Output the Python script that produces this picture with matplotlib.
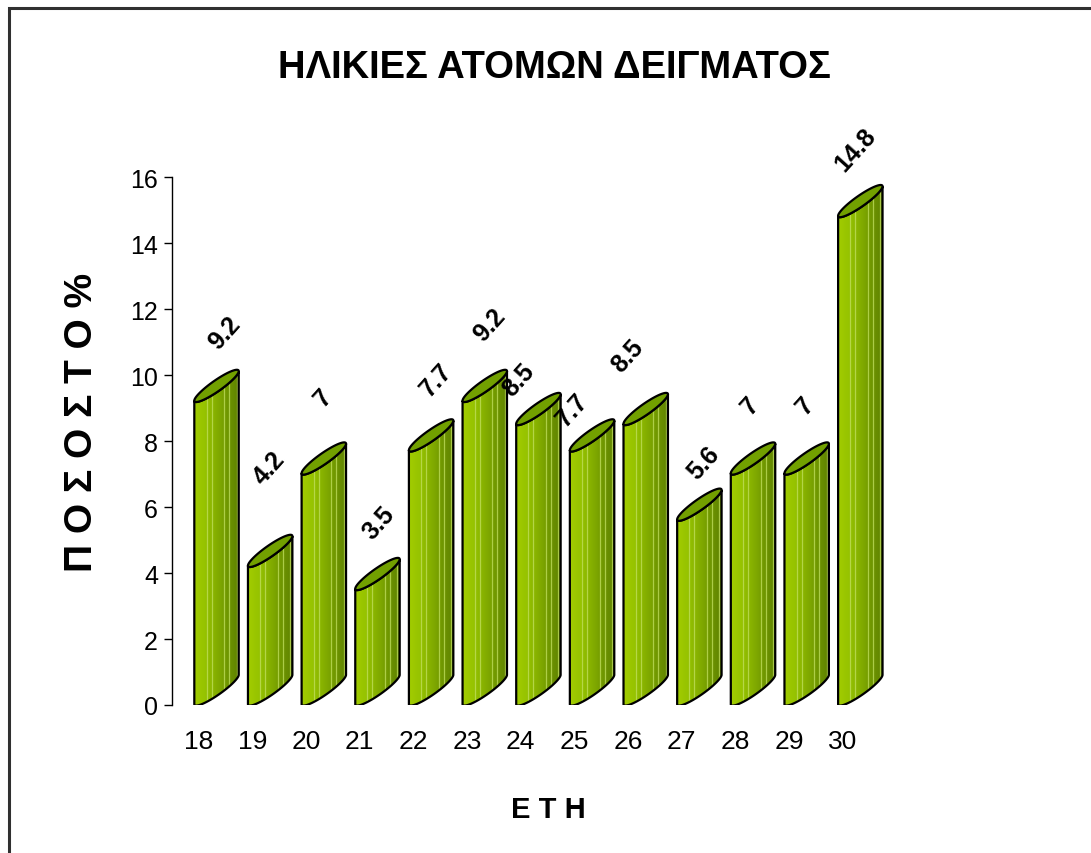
import numpy as np
import matplotlib
matplotlib.use('Agg')
import matplotlib.pyplot as plt
import matplotlib.font_manager as fm
from matplotlib.colors import LinearSegmentedColormap
from matplotlib.patches import Polygon, Rectangle

# data
ages = ['18', '19', '20', '21', '22', '23', '24', '25', '26', '27', '28', '29', '30']
percent = [9.2, 4.2, 7, 3.5, 7.7, 9.2, 8.5, 7.7, 8.5, 5.6, 7, 7, 14.8]
value_labels = ['9.2', '4.2', '7', '3.5', '7.7', '9.2', '8.5', '7.7', '8.5', '5.6', '7', '7', '14.8']

# label placement (pixel offsets from bar top-left), Excel moved some of them around
label_dx = [30, 21, 22, 23, 27, 27, 2, 2, 4, 26, 19, 21, 17]
label_dy = [69, 99, 77, 67, 72, 77, 45, 42, 69, 58, 69, 69, 67]

names = {f.name for f in fm.fontManager.ttflist}
FONT = 'Liberation Sans Narrow' if 'Liberation Sans Narrow' in names else 'Liberation Sans'
plt.rcParams['font.family'] = [FONT, 'DejaVu Sans']

W, H = 1091, 854
fig = plt.figure(figsize=(W / 100, H / 100), dpi=100)

# outer chart frame (only left/top edges show in the picture)
fig.patches.append(Rectangle((9 / W, -0.2), 1.2, 1.2 - 9 / H, transform=fig.transFigure,
                             fill=False, edgecolor='#303030', linewidth=2.2))

step = 53.65   # px per category
ax = fig.add_axes([172 / W, 148 / H, 14 * step / W, 528 / H])
ax.set_xlim(-0.5, 13.5)
ax.set_ylim(0, 16)
sx = step
sy = 528 / 16.0

# cylinder cross-section (pixels, y up): left point at (0,0), right at (44,31)
t = np.linspace(0, 2 * np.pi, 361)
C = np.array([22.0, 15.5])
A = np.array([-22.0, -15.5])
B = np.array([-3.1, 4.4])
ex = C[0] + A[0] * np.cos(t) + B[0] * np.sin(t)
ey = C[1] + A[1] * np.cos(t) + B[1] * np.sin(t)
iL, iR = np.argmin(ex), np.argmax(ex)
# front arc = lower arc between left and right extremes
if iL < iR:
    arc1 = np.arange(iL, iR + 1)
    arc2 = np.r_[np.arange(iR, len(t)), np.arange(0, iL + 1)][::-1]
else:
    arc1 = np.arange(iR, iL + 1)[::-1]
    arc2 = np.r_[np.arange(iL, len(t)), np.arange(0, iR + 1)]
front = arc1 if ey[arc1].mean() < ey[arc2].mean() else arc2
fx, fy = ex[front], ey[front]   # runs left -> right

side_cmap = LinearSegmentedColormap.from_list(
    'side', ['#a2cd00', '#95c200', '#84ae00', '#6f9600', '#5f8200'])
grad = np.linspace(0, 1, 64).reshape(1, -1)
stripes = [12, 17, 29.5, 34.5, 42]

for i, v in enumerate(percent):
    x0 = i - 4.3 / sx
    # side polygon
    top_x = x0 + fx / sx
    top_y = v + fy / sy
    bot_y = fy / sy
    px = np.r_[top_x, top_x[::-1]]
    py = np.r_[top_y, bot_y[::-1]]
    side = Polygon(np.c_[px, py], closed=True, facecolor='none', edgecolor='black',
                   linewidth=1.6, zorder=3 + i * 0.01)
    ax.add_patch(side)
    im = ax.imshow(grad, cmap=side_cmap, aspect='auto', interpolation='bicubic',
                   extent=(px.min(), px.max(), 0, py.max()), zorder=2 + i * 0.01)
    im.set_clip_path(side)
    for s in stripes:
        ln, = ax.plot([x0 + s / sx] * 2, [0, py.max()], color='#c2e060', lw=0.9,
                      alpha=0.75, zorder=2.5 + i * 0.01)
        ln.set_clip_path(side)
    # top ellipse
    top = Polygon(np.c_[x0 + ex / sx, v + ey / sy], closed=True, facecolor='#72a000',
                  edgecolor='black', linewidth=1.6, zorder=4 + i * 0.01)
    ax.add_patch(top)
    ax.annotate(value_labels[i], xy=(x0, v), xytext=(label_dx[i], label_dy[i]),
                textcoords='offset pixels', ha='center', va='center', rotation=48,
                fontsize=18, fontweight='bold', zorder=6)

ax.set_xlim(-0.5, 13.5)
ax.set_ylim(0, 16)
for sp in ['top', 'right', 'bottom']:
    ax.spines[sp].set_visible(False)
ax.spines['left'].set_linewidth(1.0)
ax.set_yticks(range(0, 17, 2))
ax.set_yticklabels([str(k) for k in range(0, 17, 2)], fontsize=18)
ax.tick_params(axis='y', direction='out', length=6, width=1.0, pad=4)
ax.set_xticks(range(len(ages)))
ax.set_xticklabels(ages, fontsize=19)
ax.tick_params(axis='x', length=0, pad=17)
ax.patch.set_visible(False)

fig.text(554 / W, 1 - 68 / H, 'ΗΛΙΚΙΕΣ ΑΤΟΜΩΝ ΔΕΙΓΜΑΤΟΣ', ha='center', va='center',
         fontsize=27.5, fontweight='bold')
fig.text(82 / W, 1 - 422 / H, 'Π Ο Σ Ο Σ Τ Ο %', ha='center', va='center',
         rotation=90, fontsize=28, fontweight='bold')
fig.text(548 / W, 1 - 810 / H, 'Ε Τ Η', ha='center', va='center',
         fontsize=21, fontweight='bold')

fig.savefig('out.png', dpi=100, facecolor='white')
